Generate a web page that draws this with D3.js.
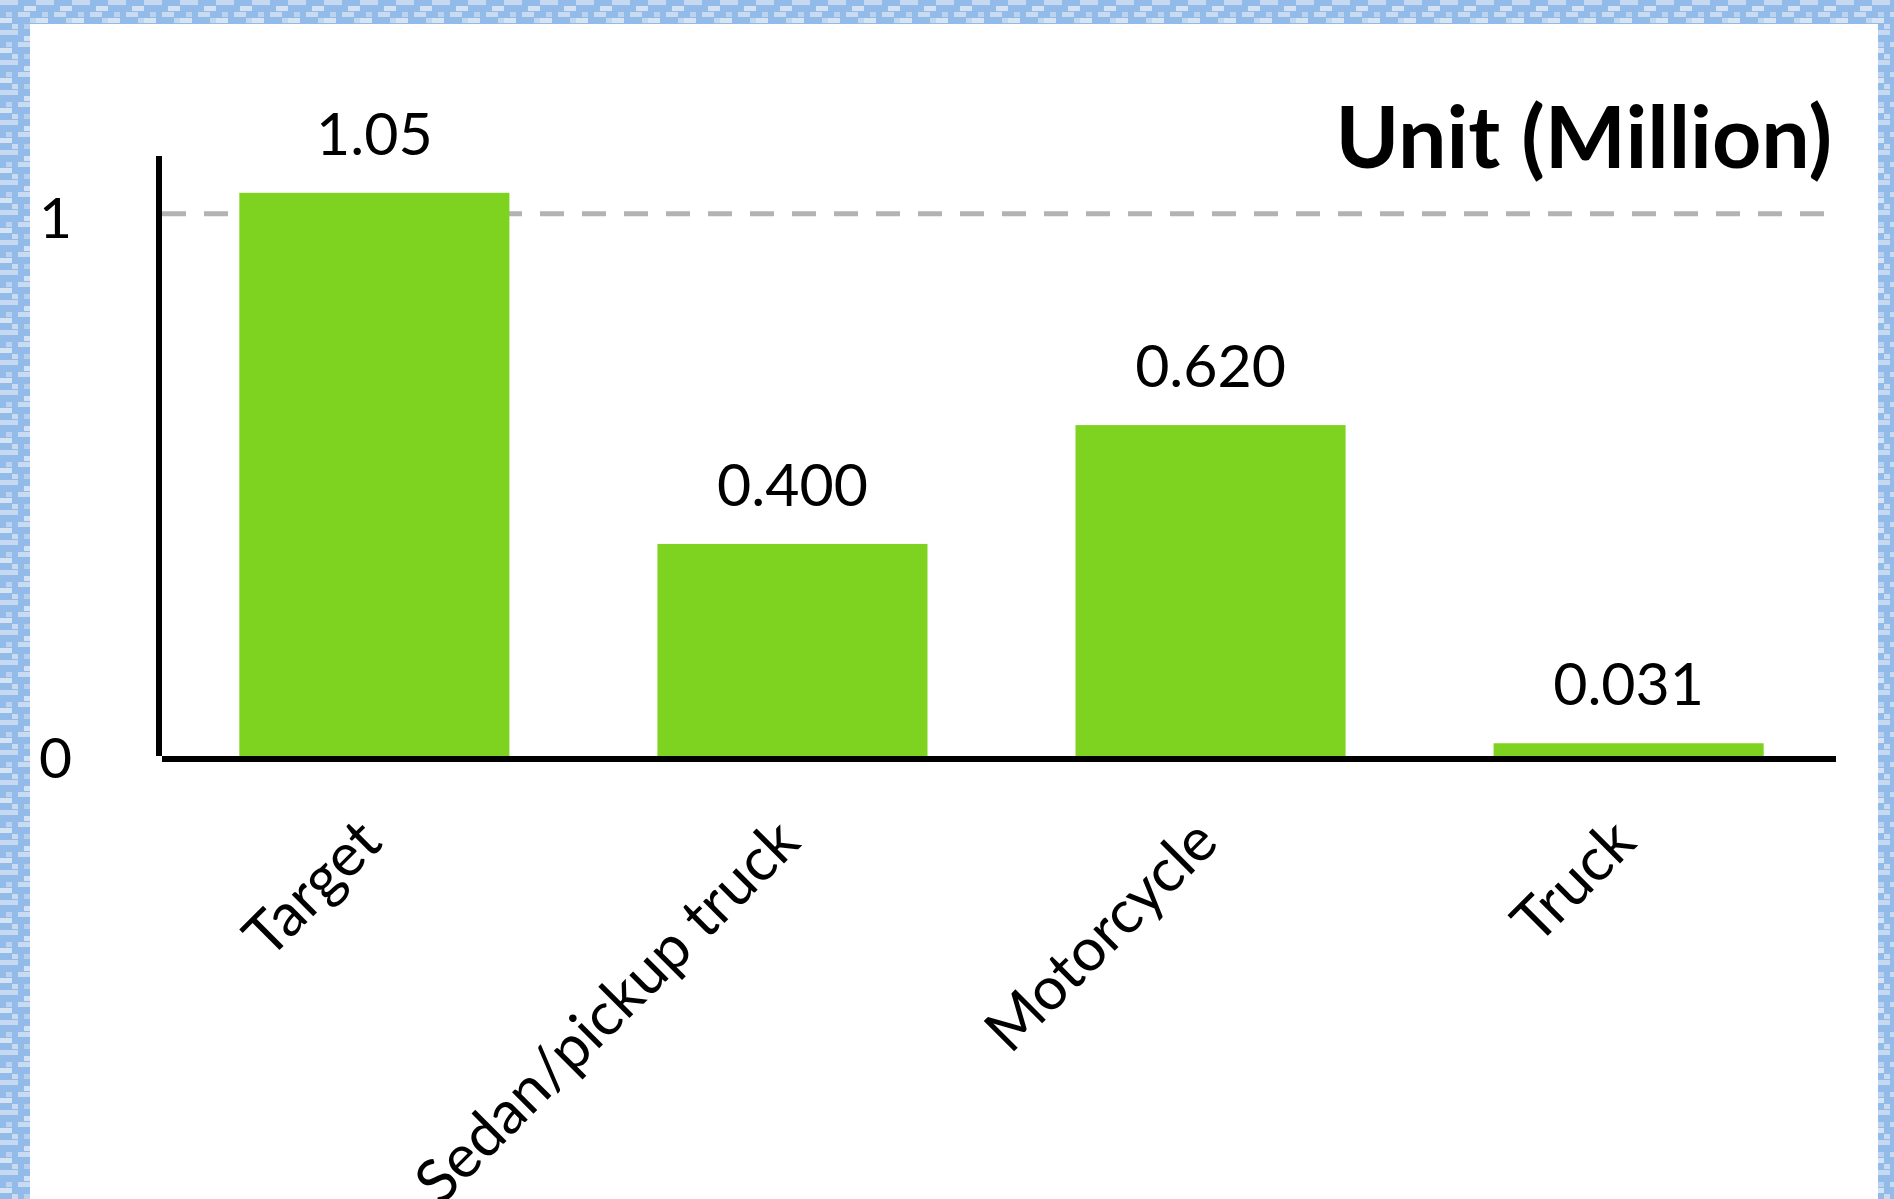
<!DOCTYPE html>
<html>
<head>
<meta charset="utf-8">
<script src="https://cdn.jsdelivr.net/npm/d3@7"></script>
<style>
  html, body { margin: 0; padding: 0; background: #fff; }
  svg { display: block; }
</style>
</head>
<body>
<svg id="chart"></svg>
<script>
// Unit sales bar chart with a dashed target line at 1 million.

const categories = ["Target", "Sedan/pickup truck", "Motorcycle", "Truck"];
const values = [1.05, 0.4, 0.62, 0.031];
const valueLabels = ["1.05", "0.400", "0.620", "0.031"];
const yTicks = [0, 1];
const targetValue = 1;
const title = "Unit (Million)";

const width = 1894;
const height = 1199;
const frame = { left: 30, top: 24, right: 16 };
const plot = { left: 159, right: 1836, top: 155, bottom: 760 };
const barColor = "#7ed321";
const font = "Lato, 'Open Sans', sans-serif";

const svg = d3.select("#chart").attr("width", width).attr("height", height);

// patterned blue frame behind the white card
const defs = svg.append("defs");
const tile = defs.append("pattern")
  .attr("id", "frame-pattern")
  .attr("patternUnits", "userSpaceOnUse")
  .attr("width", 36)
  .attr("height", 30);
tile.append("rect").attr("width", 36).attr("height", 30).attr("fill", "#93bbe9");
[
  [0, 0, 18, 5, "#c6d9f0"], [24, 6, 12, 5, "#d3e1f2"], [6, 12, 6, 5, "#bcd2ee"],
  [18, 12, 12, 5, "#c9dbf0"], [0, 18, 12, 5, "#d6e3f3"], [24, 24, 6, 5, "#b9d0ec"],
  [12, 24, 6, 5, "#cadbef"], [30, 18, 6, 5, "#c0d5ee"],
].forEach(([x, y, w, h, c]) => {
  tile.append("rect").attr("x", x).attr("y", y).attr("width", w).attr("height", h).attr("fill", c);
});

svg.append("rect").attr("width", width).attr("height", height).attr("fill", "url(#frame-pattern)");
svg.append("rect")
  .attr("x", frame.left)
  .attr("y", frame.top)
  .attr("width", width - frame.left - frame.right)
  .attr("height", height - frame.top)
  .attr("fill", "#fff");

const x = d3.scaleBand()
  .domain(categories)
  .range([plot.left + 8, plot.right])
  .paddingInner(0.354)
  .paddingOuter(0.173);

const y = d3.scaleLinear()
  .domain([0, 1.12])
  .range([plot.bottom, plot.top]);

// dashed target line (sits behind the bars)
svg.append("line")
  .attr("x1", plot.left + 3)
  .attr("x2", plot.right)
  .attr("y1", y(targetValue) - 6)
  .attr("y2", y(targetValue) - 6)
  .attr("stroke", "#b3b3b3")
  .attr("stroke-width", 5)
  .attr("stroke-dasharray", "24 18");

const data = categories.map((c, i) => ({ c, v: values[i], label: valueLabels[i] }));

svg.append("g")
  .selectAll("rect")
  .data(data)
  .join("rect")
  .attr("x", (d) => x(d.c))
  .attr("width", x.bandwidth())
  .attr("y", (d) => y(d.v))
  .attr("height", (d) => y(0) - y(d.v))
  .attr("fill", barColor);

svg.append("g")
  .attr("font-family", font)
  .attr("font-size", 59)
  .attr("text-anchor", "middle")
  .attr("fill", "#000")
  .selectAll("text")
  .data(data)
  .join("text")
  .attr("x", (d) => x(d.c) + x.bandwidth() / 2)
  .attr("y", (d) => y(d.v) - 38)
  .text((d) => d.label);

// axes: thick black lines
svg.append("line")
  .attr("x1", plot.left).attr("x2", plot.left)
  .attr("y1", 156).attr("y2", y(0) - 4)
  .attr("stroke", "#000").attr("stroke-width", 6);
svg.append("line")
  .attr("x1", plot.left + 3).attr("x2", plot.right)
  .attr("y1", y(0) - 1).attr("y2", y(0) - 1)
  .attr("stroke", "#000").attr("stroke-width", 6);

svg.append("g")
  .attr("font-family", font)
  .attr("font-size", 57)
  .attr("text-anchor", "end")
  .selectAll("text")
  .data(yTicks)
  .join("text")
  .attr("x", 72)
  .attr("y", (d) => y(d) + 18)
  .text((d) => d);

// rotated category labels
svg.append("g")
  .attr("font-family", font)
  .attr("font-size", 60)
  .attr("text-anchor", "end")
  .selectAll("text")
  .data(categories)
  .join("text")
  .attr("transform", (d) => `translate(${x(d) + x.bandwidth() / 2 + 10},${845}) rotate(-45)`)
  .text((d) => d);

svg.append("text")
  .attr("x", 1832)
  .attr("y", 168)
  .attr("text-anchor", "end")
  .attr("font-family", font)
  .attr("font-weight", 700)
  .attr("font-size", 86)
  .text(title);
</script>
</body>
</html>
